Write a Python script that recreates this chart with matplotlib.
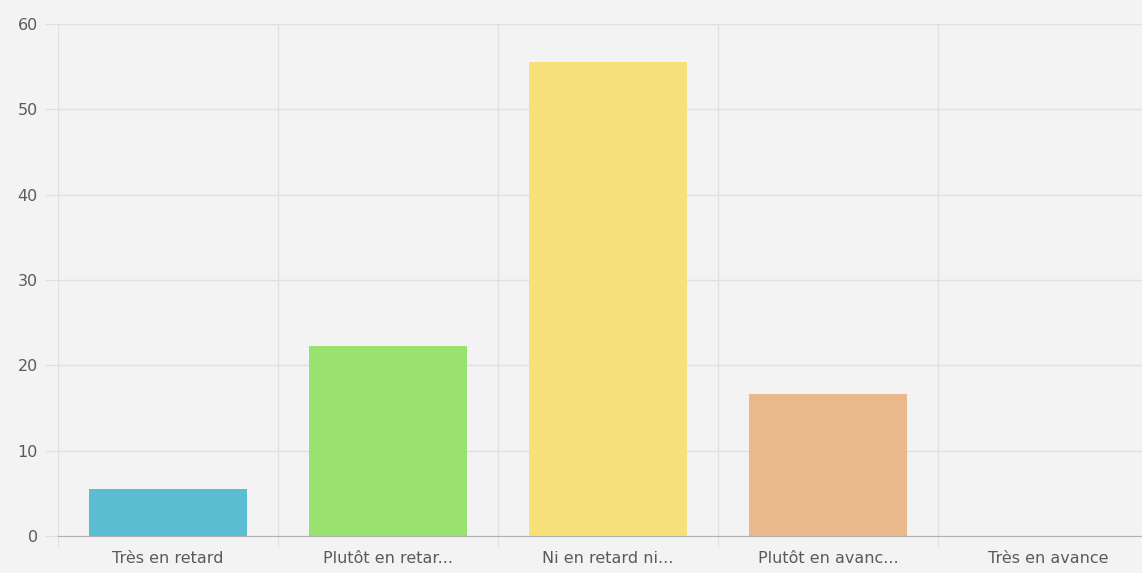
import numpy as np
import matplotlib
matplotlib.use("Agg")
import matplotlib.pyplot as plt

labels = ["Très en retard", "Plutôt en retar...", "Ni en retard ni...", "Plutôt en avanc...", "Très en avance"]
values = [5.56, 22.22, 55.56, 16.67, 0]
colors = ["#5bbdd2", "#99e270", "#f6e07a", "#e9b98b"]
yticks = [0, 10, 20, 30, 40, 50, 60]

bg = "#f3f3f3"
grid = "#e0e0e0"
txt = "#5a5a5a"

fig = plt.figure(figsize=(11.42, 5.73), dpi=100, facecolor=bg)
ax = fig.add_axes([58/1142, 37/573, 1100/1142, 512/573], facecolor=bg)

x = np.arange(len(labels))
ax.bar(x[:4], values[:4], width=0.72, color=colors, zorder=3)

ax.set_xlim(-0.5, 4.5)
ax.set_ylim(0, 60)
ax.set_yticks(yticks)
ax.set_xticks(x - 0.5, minor=False)
ax.set_xticklabels([])
ax.set_xticks(x, minor=True)
ax.set_xticklabels(labels, minor=True)

ax.grid(axis="y", color=grid, linewidth=1, zorder=0)
ax.grid(axis="x", which="major", color=grid, linewidth=1, zorder=0)
ax.tick_params(axis="x", which="major", length=8, color=grid)
ax.tick_params(axis="x", which="minor", length=0, pad=11, labelsize=11.5, labelcolor=txt)
ax.tick_params(axis="y", length=9.4, color=grid, pad=5, labelsize=11.5, labelcolor=txt)

for s in ["top", "right", "left"]:
    ax.spines[s].set_visible(False)
ax.spines["bottom"].set_color("#b0b0b0")
ax.spines["bottom"].set_zorder(4)

fig.savefig("out.png", dpi=100, facecolor=bg)
